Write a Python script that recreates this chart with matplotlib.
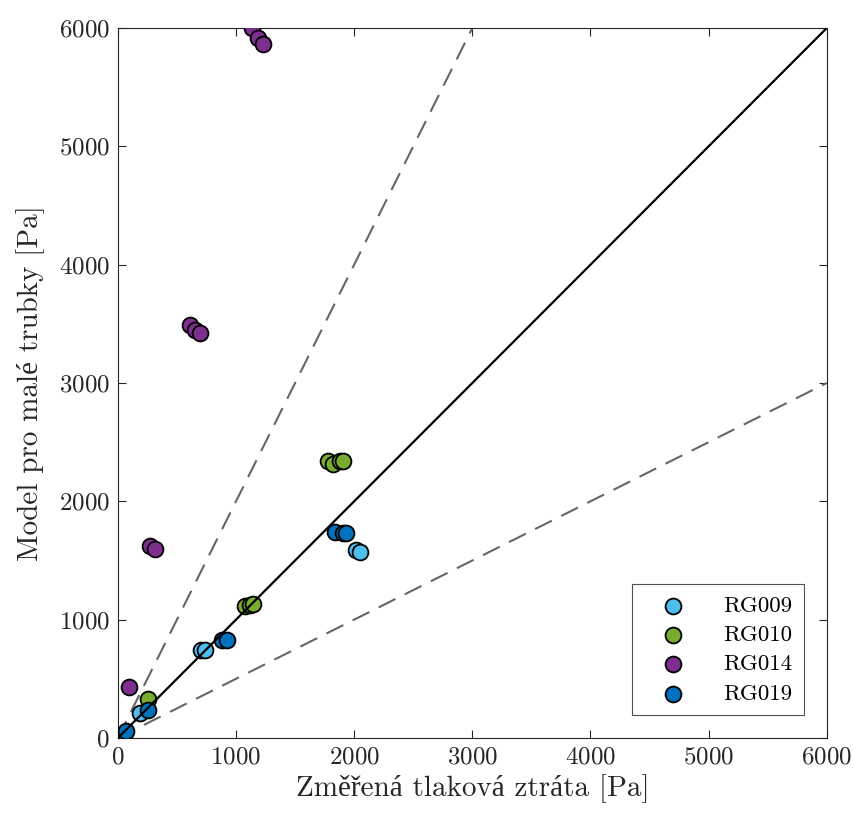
import numpy as np
import matplotlib
matplotlib.use('Agg')
import matplotlib.pyplot as plt

plt.rcParams['font.family'] = ['cmr10', 'Liberation Serif']
plt.rcParams['axes.formatter.use_mathtext'] = True
plt.rcParams['mathtext.fontset'] = 'cm'

# measured vs model pressure loss [Pa]
rg009_x = [59, 186, 702, 736, 2013, 2047]
rg009_y = [42, 211, 744, 744, 1589, 1572]

rg010_x = [254, 1074, 1117, 1142, 1777, 1819, 1878, 1904]
rg010_y = [330, 1116, 1124, 1133, 2341, 2316, 2341, 2345]

rg014_x = [93, 271, 313, 609, 651, 694, 1134, 1184, 1227]
rg014_y = [431, 1623, 1598, 3491, 3449, 3423, 6000, 5917, 5866]

rg019_x = [68, 254, 880, 922, 1836, 1904, 1929]
rg019_y = [59, 237, 828, 828, 1741, 1733, 1733]

series = [
    ('RG009', rg009_x, rg009_y, '#4DBEEE'),
    ('RG010', rg010_x, rg010_y, '#77AC30'),
    ('RG014', rg014_x, rg014_y, '#7E2F8E'),
    ('RG019', rg019_x, rg019_y, '#0072BD'),
]

fig = plt.figure(figsize=(8.54, 8.15), dpi=100)
ax = fig.add_axes([0.138, 0.0945, 0.830, 0.871])

for name, x, y, c in series:
    ax.scatter(x, y, s=130, c=c, edgecolors='k', linewidths=1.3, label=name, zorder=3)

lim = 6000
ax.plot([0, lim], [0, lim], 'k-', lw=1.6, zorder=4)
ax.plot([0, lim / 2], [0, lim], '--', color='#666666', lw=1.5, dashes=(9, 5), zorder=2)
ax.plot([0, lim], [0, lim / 2], '--', color='#666666', lw=1.5, dashes=(9, 5), zorder=2)

ax.set_xlim(0, lim)
ax.set_ylim(0, lim)
ax.set_xticks(np.arange(0, 6001, 1000))
ax.set_yticks(np.arange(0, 6001, 1000))
ax.tick_params(direction='in', top=True, right=True, labelsize=18, length=6,
               color='#262626', labelcolor='#262626', pad=6)
for s in ax.spines.values():
    s.set_color('#262626')
    s.set_linewidth(0.8)

ax.set_xlabel('Změřená tlaková ztráta [Pa]', fontsize=21, color='#262626', labelpad=4)
ax.set_ylabel('Model pro malé trubky [Pa]', fontsize=21, color='#262626', labelpad=10)

leg = ax.legend(loc='lower right', fontsize=16.5, frameon=True, fancybox=False,
                edgecolor='#262626', borderpad=0.5, handlelength=2.6, handletextpad=0.9,
                borderaxespad=1.0, labelspacing=0.4, markerfirst=True)
leg.get_frame().set_linewidth(0.8)

fig.savefig('out.png', dpi=100)
